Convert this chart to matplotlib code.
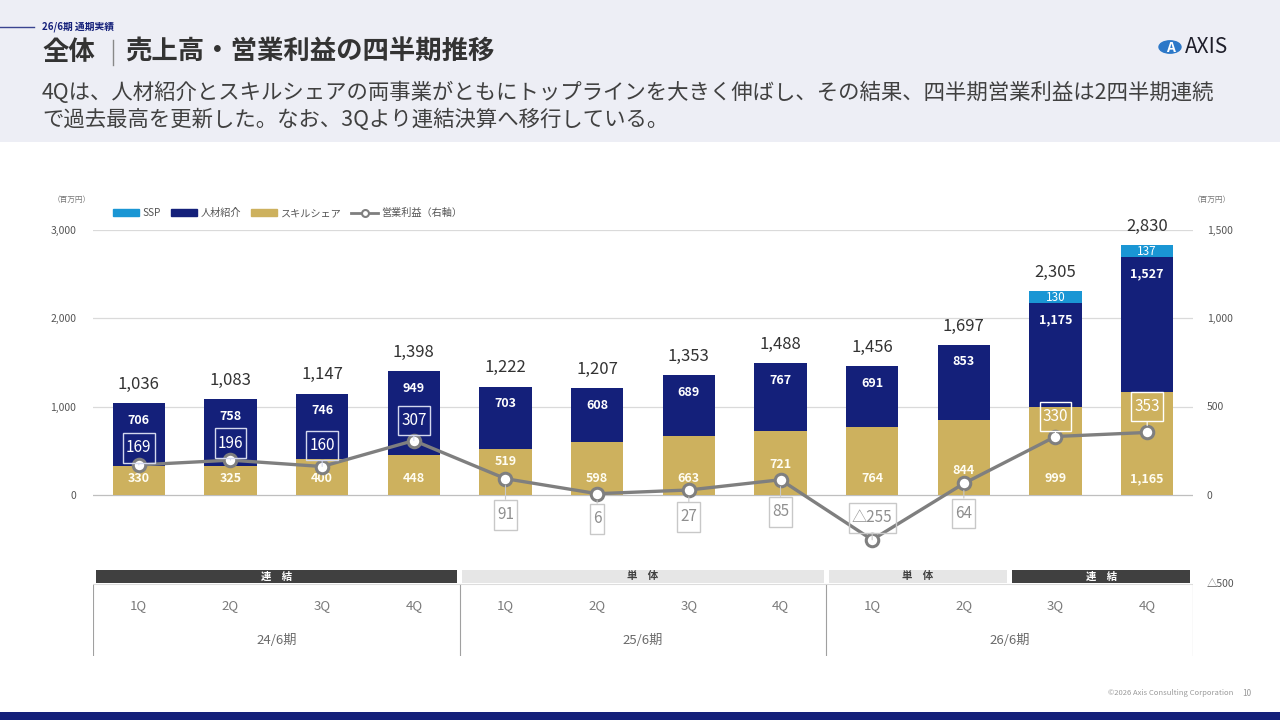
import matplotlib
matplotlib.use('Agg')
import matplotlib.pyplot as plt
from matplotlib.patches import Rectangle, Circle, Patch
from matplotlib.lines import Line2D
from matplotlib.path import Path
import numpy as np

plt.rcParams['font.family'] = ['Noto Sans CJK JP', 'DejaVu Sans']

# ---------------- data ----------------
quarters = ['1Q', '2Q', '3Q', '4Q', '1Q', '2Q', '3Q', '4Q', '1Q', '2Q', '3Q', '4Q']
periods = ['24/6期', '25/6期', '26/6期']
period_spans = [(0, 3), (4, 7), (8, 11)]
scope_labels = ['連　結', '単　体', '単　体', '連　結']
scope_spans = [(0, 3), (4, 7), (8, 9), (10, 11)]
scope_dark = [True, False, False, True]

skill_share = [330, 325, 400, 448, 519, 598, 663, 721, 764, 844, 999, 1165]
jinzai = [706, 758, 746, 949, 703, 608, 689, 767, 691, 853, 1175, 1527]
ssp = [0, 0, 0, 0, 0, 0, 0, 0, 0, 0, 130, 137]
totals = [1036, 1083, 1147, 1398, 1222, 1207, 1353, 1488, 1456, 1697, 2305, 2830]
op_profit = [169, 196, 160, 307, 91, 6, 27, 85, -255, 64, 330, 353]

left_ticks = [0, 1000, 2000, 3000]
right_ticks = [-500, 0, 500, 1000, 1500]

# ---------------- style ----------------
C_GOLD = '#CDB15E'
C_NAVY = '#14207A'
C_SSP = '#1A96D4'
C_LINE = '#7F7F7F'
C_HEAD_BG = '#EDEEF5'

W, H = 1280, 720
fig = plt.figure(figsize=(12.8, 7.2), dpi=100)
fig.patch.set_facecolor('white')


def fx(px):
    return px / W


def fy(py):
    return 1 - py / H


def tall_box(x0, y0, width, height, mutation_size):
    px = 0.2 * mutation_size
    py = 0.42 * mutation_size
    x0, y0 = x0 - px, y0 - py
    x1, y1 = x0 + width + 2 * px, y0 + height + 2 * py
    return Path([(x0, y0), (x1, y0), (x1, y1), (x0, y1), (x0, y0)],
                closed=True)


# header band and footer
fig.add_artist(Rectangle((0, fy(142)), 1, 142 / H, transform=fig.transFigure,
                         color=C_HEAD_BG, zorder=-5, lw=0))
fig.add_artist(Rectangle((0, 0), 1, 8 / H, transform=fig.transFigure,
                         color=C_NAVY, zorder=-5, lw=0))
fig.add_artist(Line2D([0, fx(34)], [fy(27), fy(27)], transform=fig.transFigure,
                      color='#3A4490', lw=1))
fig.text(fx(42), fy(27), '26/6期 通期実績', fontsize=7, fontweight='bold',
         color=C_NAVY, va='center', ha='left')
fig.text(fx(42), fy(52), '全体', fontsize=19, fontweight='bold', color='#333333',
         va='center', ha='left')
fig.add_artist(Line2D([fx(113), fx(113)], [fy(40), fy(65)], transform=fig.transFigure,
                      color='#888888', lw=1))
fig.text(fx(125), fy(52), '売上高・営業利益の四半期推移', fontsize=19, fontweight='bold',
         color='#333333', va='center', ha='left')
fig.text(fx(42), fy(93),
         '4Qは、人材紹介とスキルシェアの両事業がともにトップラインを大きく伸ばし、その結果、四半期営業利益は2四半期連続',
         fontsize=15.4, color='#404040', va='center', ha='left')
fig.text(fx(42), fy(120), 'で過去最高を更新した。なお、3Qより連結決算へ移行している。',
         fontsize=15.4, color='#404040', va='center', ha='left')

# logo
fig.add_artist(Circle((fx(1170), fy(47)), 11 / W, transform=fig.transFigure,
                      color='#2C78C8', zorder=2))
fig.text(fx(1170), fy(48), 'A', fontsize=10, fontweight='bold', color='white',
         ha='center', va='center', zorder=3)
fig.text(fx(1185), fy(47), 'AXIS', fontsize=15, color='#1E1E2A', ha='left', va='center')

# footer text
fig.text(fx(1233), fy(693), '©2026 Axis Consulting Corporation', fontsize=5.5,
         color='#9A9A9A', ha='right', va='center')
fig.text(fx(1247), fy(693), '10', fontsize=6, color='#9A9A9A', ha='center', va='center')

# units
fig.text(fx(72), fy(200), '（百万円）', fontsize=5.5, color='#777777', ha='center', va='center')
fig.text(fx(1212), fy(200), '（百万円）', fontsize=5.5, color='#777777', ha='center', va='center')

# ---------------- main chart ----------------
ax = fig.add_axes([fx(93), fy(583), 1100 / W, (583 - 230) / H])
ax.set_facecolor('none')
x = np.arange(len(quarters))
ax.set_xlim(-0.5, len(quarters) - 0.5)
ax.set_ylim(-1000, 3000)
for s in ax.spines.values():
    s.set_visible(False)
ax.set_xticks([])
ax.set_yticks(left_ticks)
ax.set_yticklabels([f'{v:,}' for v in left_ticks], fontsize=7.5, color='#555555')
ax.tick_params(axis='y', length=0, pad=12)
for v in left_ticks:
    ax.axhline(v, color='#BFBFBF' if v == 0 else '#DADADA', lw=0.9, zorder=0)

bw = 0.57
skill_a = np.array(skill_share)
jin_a = np.array(jinzai)
ssp_a = np.array(ssp)
ax.bar(x, skill_a, width=bw, color=C_GOLD, zorder=2)
ax.bar(x, jin_a, width=bw, bottom=skill_a, color=C_NAVY, zorder=2)
has_ssp = ssp_a > 0
ax.bar(x[has_ssp], ssp_a[has_ssp], width=bw, bottom=(skill_a + jin_a)[has_ssp],
       color=C_SSP, zorder=2)

gold_dy = [16, 16, 16, 16, 33, 16, 16, 30, 16, 24, 16, 16]
for i in x:
    ax.annotate(f'{totals[i]:,}', (i, skill_a[i] + jin_a[i] + ssp_a[i]),
                xytext=(0, 19), textcoords='offset pixels', ha='center', va='center',
                fontsize=12, color='#333333')
    ax.annotate(f'{jin_a[i]:,}', (i, skill_a[i] + jin_a[i]), xytext=(0, -17),
                textcoords='offset pixels', ha='center', va='center',
                fontsize=9, fontweight='bold', color='white', zorder=4)
    ax.annotate(f'{skill_a[i]:,}', (i, 0), xytext=(0, gold_dy[i]),
                textcoords='offset pixels', ha='center', va='center',
                fontsize=9, fontweight='bold', color='#FFFDF2', zorder=4)
    if ssp_a[i] > 0:
        ax.text(i, skill_a[i] + jin_a[i] + ssp_a[i] / 2, f'{ssp_a[i]:,}',
                ha='center', va='center', fontsize=8.5, color='white', zorder=4)

# right axis: operating profit
ax2 = ax.twinx()
ax2.set_ylim(-500, 1500)
for s in ax2.spines.values():
    s.set_visible(False)
ax2.set_yticks(right_ticks)
ax2.set_yticklabels([('△' + f'{-v:,}') if v < 0 else f'{v:,}' for v in right_ticks],
                    fontsize=7.5, color='#555555')
ax2.tick_params(axis='y', length=0, pad=10)
ax2.plot(x, op_profit, color=C_LINE, lw=2.4, marker='o', ms=9,
         mfc='white', mec=C_LINE, mew=2.2, zorder=5)

prof_dy = [17, 17, 21, 20, -36, -25, -27, -32, 22, -30, 20, 26]
for i in x:
    v = op_profit[i]
    up = prof_dy[i] > 0 and v > 0
    tc = 'white' if up else '#8F8F8F'
    ec = '#D4D8EE' if up else '#C8C8C8'
    if up and i >= 10:
        ec = '#FFFFFF'
    label = ('△' + f'{-v:,}') if v < 0 else f'{v:,}'
    ax2.annotate(label, (i, v), xytext=(0, prof_dy[i]), textcoords='offset pixels',
                 ha='center', va='center', fontsize=11, color=tc, zorder=6,
                 bbox=dict(boxstyle=tall_box, fc='none', ec=ec, lw=1),
                 arrowprops=dict(arrowstyle='-', color=ec, lw=0.8, shrinkA=0, shrinkB=5))

# legend
handles = [Patch(color=C_SSP, label='SSP'),
           Patch(color=C_NAVY, label='人材紹介'),
           Patch(color=C_GOLD, label='スキルシェア'),
           Line2D([], [], color=C_LINE, lw=2, marker='o', ms=5, mfc='white',
                  mec=C_LINE, mew=1.5, label='営業利益（右軸）')]
fig.legend(handles=handles, loc='center left', bbox_to_anchor=(fx(104), fy(213)),
           ncol=4, frameon=False, fontsize=7.3, handlelength=2.6, handleheight=0.6,
           handletextpad=0.3, columnspacing=1.0, labelcolor='#555555')

# ---------------- bottom table ----------------
tab = fig.add_axes([fx(93), fy(656), 1100 / W, (656 - 568) / H])
tab.set_xlim(-0.5, len(quarters) - 0.5)
tab.set_ylim(88, 0)
tab.axis('off')
for (a, b), lab, dark in zip(scope_spans, scope_labels, scope_dark):
    fc = '#404040' if dark else '#E6E6E6'
    tcol = 'white' if dark else '#404040'
    tab.add_patch(Rectangle((a - 0.47, 2), (b - a) + 0.94, 13, color=fc, lw=0))
    tab.text((a + b) / 2, 8.5, lab, ha='center', va='center', fontsize=7.5,
             fontweight='bold', color=tcol)
tab.plot([-0.5, len(quarters) - 0.5], [16, 16], color='#DDDDDD', lw=0.8)
for xv in [-0.5, 3.5, 7.5, 11.5]:
    tab.plot([xv, xv], [17, 87], color='#A0A0A0', lw=0.8)
for i, q in enumerate(quarters):
    tab.text(i, 38, q, ha='center', va='center', fontsize=9.5, color='#7A7A7A')
for (a, b), p in zip(period_spans, periods):
    tab.text((a + b) / 2, 73, p, ha='center', va='center', fontsize=9.5, color='#6A6A6A')

fig.savefig('out.png', dpi=100)
